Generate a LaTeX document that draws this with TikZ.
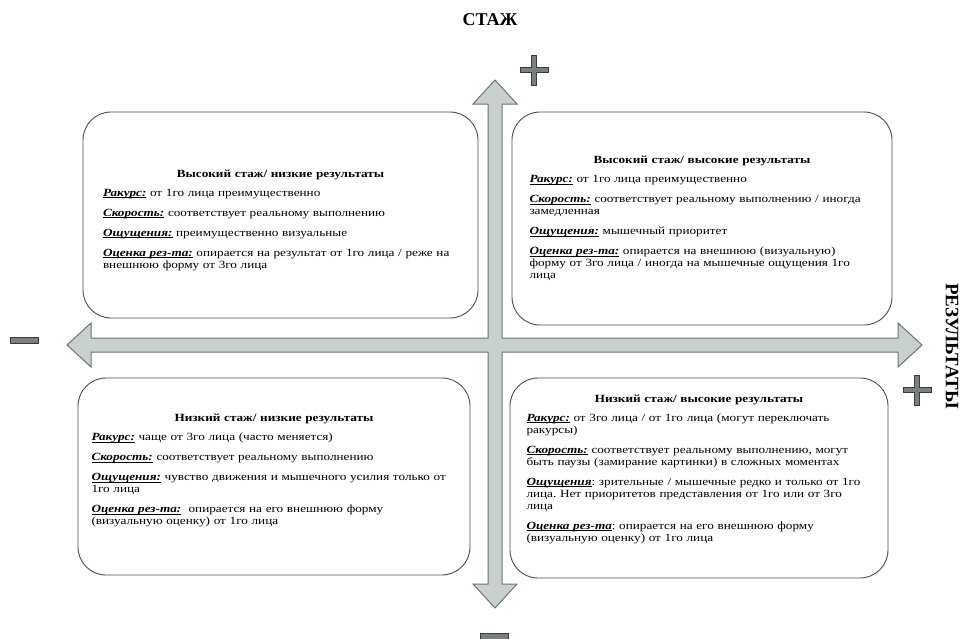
\documentclass[tikz,border=0pt]{standalone}
\usepackage{fontspec}
\setmainfont{Liberation Serif}
\usepackage{tikz}

\definecolor{arrowfill}{HTML}{C9D0D0}
\definecolor{arrowline}{HTML}{6E7474}
\definecolor{signfill}{HTML}{7A7F7F}
\definecolor{signline}{HTML}{3A3C3C}

\newsavebox{\lblbox}
\newcommand{\lbl}[1]{\leavevmode\sbox{\lblbox}{\textbf{\textit{#1}}}%
  \rlap{\rule[-1.6pt]{\wd\lblbox}{0.6pt}}\usebox{\lblbox}}
\frenchspacing

\begin{document}
\begin{tikzpicture}[x=1pt,y=-1pt,
  quad/.style={draw=black!70,line width=0.9pt,rounded corners=28pt,inner sep=0pt},
  quadtext/.style={inner sep=0pt,align=left,
    font=\fontsize{11}{12}\selectfont\addfontfeature{FakeStretch=1.2}},
  sign/.style={fill=signfill,draw=signline,line width=0.8pt},
  plussign/.pic={\filldraw[sign] (-14,-2.5) -- (-2.5,-2.5) -- (-2.5,-15) -- (2.5,-15) -- (2.5,-2.5)
    -- (14,-2.5) -- (14,2.5) -- (2.5,2.5) -- (2.5,15) -- (-2.5,15) -- (-2.5,2.5) -- (-14,2.5) -- cycle;},
  minussign/.pic={\filldraw[sign] (-14,-3) rectangle (14,3);}]
\useasboundingbox (0,0) rectangle (967,638);

% axes
\filldraw[fill=arrowfill,draw=arrowline,line width=1pt,line join=miter]
  (495,80) -- (517,104) -- (502,104) -- (502,338) -- (898,338) -- (898,323) -- (922,345)
  -- (898,367) -- (898,352) -- (502,352) -- (502,584) -- (517,584) -- (495,608)
  -- (473,584) -- (488,584) -- (488,352) -- (91,352) -- (91,367) -- (67,345)
  -- (91,323) -- (91,338) -- (488,338) -- (488,104) -- (473,104) -- cycle;

\node[font=\fontsize{18}{20}\selectfont\bfseries] (stazh) at (490,20) {СТАЖ};
\node[font=\fontsize{19}{20}\selectfont\bfseries,rotate=-90] (rez) at (952,346) {РЕЗУЛЬТАТЫ};

\pic at (534,70) {plussign};
\pic at (917,390) {plussign};
\pic at (24,340) {minussign};
\pic at (494,636) {minussign};

% quadrants
\node[quad,minimum width=395pt,minimum height=206pt] (hl) at (280.5,215) {};
\node[quadtext,text width=355pt] (hltext) at ([yshift=-5pt]hl.center) {%
  {\centering\textbf{Высокий стаж/ низкие результаты}\par}\vspace{7pt}
  \lbl{Ракурс:} от 1го лица преимущественно\\[8pt]
  \lbl{Скорость:} соответствует реальному выполнению\\[8pt]
  \lbl{Ощущения:} преимущественно визуальные\\[8pt]
  \lbl{Оценка рез-та:} опирается на результат от 1го лица / реже на\\
  внешнюю форму от 3го лица};

\node[quad,minimum width=380pt,minimum height=213pt] (hh) at (702,218.5) {};
\node[quadtext,text width=345pt] (hhtext) at (hh.center) {%
  {\centering\textbf{Высокий стаж/ высокие результаты}\par}\vspace{7pt}
  \lbl{Ракурс:} от 1го лица преимущественно\\[8pt]
  \lbl{Скорость:} соответствует реальному выполнению / иногда\\
  замедленная\\[8pt]
  \lbl{Ощущения:} мышечный приоритет\\[8pt]
  \lbl{Оценка рез-та:} опирается на внешнюю (визуальную)\\
  форму от 3го лица / иногда на мышечные ощущения 1го\\
  лица};

\node[quad,minimum width=392pt,minimum height=197pt] (ll) at (274,476.5) {};
\node[quadtext,text width=365pt] (lltext) at ([yshift=6pt]ll.center) {%
  {\centering\textbf{Низкий стаж/ низкие результаты}\par}\vspace{7pt}
  \lbl{Ракурс:} чаще от 3го лица (часто меняется)\\[8pt]
  \lbl{Скорость:} соответствует реальному выполнению\\[8pt]
  \lbl{Ощущения:} чувство движения и мышечного усилия только от\\
  1го лица\\[8pt]
  \lbl{Оценка рез-та:}\ \ опирается на его внешнюю форму\\
  (визуальную оценку) от 1го лица};

\node[quad,minimum width=378pt,minimum height=200pt] (lh) at (699,478) {};
\node[quadtext,text width=345pt] (lhtext) at ([yshift=9pt]lh.center) {%
  {\centering\textbf{Низкий стаж/ высокие результаты}\par}\vspace{7pt}
  \lbl{Ракурс:} от 3го лица / от 1го лица (могут переключать\\
  ракурсы)\\[8pt]
  \lbl{Скорость:} соответствует реальному выполнению, могут\\
  быть паузы (замирание картинки) в сложных моментах\\[8pt]
  \lbl{Ощущения}: зрительные / мышечные редко и только от 1го\\
  лица. Нет приоритетов представления от 1го или от 3го\\
  лица\\[8pt]
  \lbl{Оценка рез-та}: опирается на его внешнюю форму\\
  (визуальную оценку) от 1го лица};
\end{tikzpicture}
\end{document}
